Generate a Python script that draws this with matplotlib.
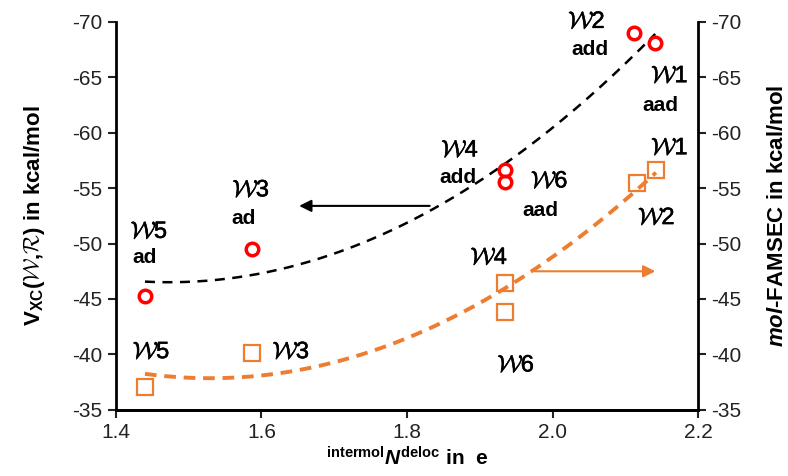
import numpy as np
import matplotlib
matplotlib.use("Agg")
import matplotlib.pyplot as plt
import matplotlib.patheffects as pe

plt.rcParams['font.family'] = ['Liberation Sans', 'DejaVu Sans']
plt.rcParams['axes.unicode_minus'] = False
plt.rcParams['mathtext.fontset'] = 'custom'
plt.rcParams['mathtext.rm'] = 'Liberation Sans:bold'
plt.rcParams['mathtext.it'] = 'Liberation Sans:italic:bold'
plt.rcParams['mathtext.bf'] = 'Liberation Sans:bold'
plt.rcParams['mathtext.sf'] = 'Liberation Sans:bold'
plt.rcParams['mathtext.cal'] = 'cmsy10'

# ---- data ----
molecules = ['W5', 'W3', 'W4', 'W6', 'W2', 'W1']
n_deloc = [1.440, 1.587, 1.935, 1.935, 2.112, 2.141]
vxc = [-45.3, -49.5, -56.6, -55.6, -69.0, -68.1]
n_deloc_f = [1.440, 1.587, 1.935, 1.935, 2.116, 2.142]
famsec = [-37.1, -40.1, -46.4, -43.8, -55.5, -56.6]
motifs = ['ad', 'ad', 'add', 'aad', 'add', 'aad']
x_ticks = [1.4, 1.6, 1.8, 2.0, 2.2]
y_ticks = [-35, -40, -45, -50, -55, -60, -65, -70]

RED = '#FF0000'
ORANGE = '#ED7D31'

fig = plt.figure(figsize=(7.88, 4.76), dpi=100)
ax = fig.add_axes([0.147, 0.139, 0.739, 0.815])
ax2 = ax.twinx()

ax.set_xlim(1.4, 2.2)
for a in (ax, ax2):
    a.set_ylim(-35, -70)
    a.set_yticks(y_ticks)
    a.spines['top'].set_visible(False)
    a.tick_params(axis='y', direction='out', length=6, width=1.5, labelsize=15, colors='#222222')
ax.set_xticks(x_ticks)
ax.set_xticklabels([f'{v:.1f}' for v in x_ticks])
ax.tick_params(axis='x', direction='out', length=6, width=1.5, labelsize=15, colors='#222222')
for a in (ax, ax2):
    for s in ('left', 'right', 'bottom'):
        a.spines[s].set_linewidth(2)
ax.spines['right'].set_visible(False)
ax2.spines['left'].set_visible(False)

# trendlines (2nd order polynomial fits)
xs = np.linspace(min(n_deloc), max(n_deloc), 200)
p1 = np.polyfit(n_deloc, vxc, 2)
ax.plot(xs, np.polyval(p1, xs), color='black', ls=(0, (4, 3)), lw=1.8, zorder=2)
xs2 = np.linspace(min(n_deloc_f), max(n_deloc_f), 200)
p2 = np.polyfit(n_deloc_f, famsec, 2)
ax2.plot(xs2, np.polyval(p2, xs2), color=ORANGE, ls=(0, (3, 2)), lw=2.8, zorder=2)

ax.plot(n_deloc, vxc, 'o', ms=9, mfc='none', mec=RED, mew=2.5, zorder=3)
ax2.plot(n_deloc_f, famsec, 's', ms=11, mfc='none', mec=ORANGE, mew=1.6, zorder=3)

# labels
red_name_pos = [(1.446, -51.05), (1.586, -54.8), (1.873, -58.4), (1.996, -55.6), (2.047, -70.0), (2.161, -65.1)]
red_motif_pos = [(1.440, -48.7), (1.575, -52.3), (1.870, -56.0), (1.983, -53.0), (2.052, -67.5), (2.148, -62.5)]
or_name_pos = [(1.449, -40.2), (1.641, -40.2), (1.913, -48.7), (1.950, -39.0), (2.143, -52.3), (2.161, -58.6)]

stroke = [pe.withStroke(linewidth=0.4, foreground='black')]

def wlabel(name):
    return r'$\mathcal{W}$' + name[1:]

for name, mot, pn, pm, po in zip(molecules, motifs, red_name_pos, red_motif_pos, or_name_pos):
    ax.text(pn[0], pn[1], wlabel(name), fontsize=17, ha='center', va='center', path_effects=stroke)
    ax.text(pm[0], pm[1], mot, fontsize=15, fontweight='bold', ha='center', va='center')
    ax.text(po[0], po[1], wlabel(name), fontsize=17, ha='center', va='center', path_effects=stroke)

# arrows
ax.annotate('', xy=(1.648, -53.4), xytext=(1.835, -53.4),
            arrowprops=dict(arrowstyle='-|>', color='black', lw=1.5, mutation_scale=18))
ax.annotate('', xy=(2.145, -47.5), xytext=(1.972, -47.5),
            arrowprops=dict(arrowstyle='-|>', color=ORANGE, lw=1.5, mutation_scale=18))

ax.set_ylabel(r'V$_{\mathsf{XC}}$($\mathcal{W}$,$\mathcal{R}$) in kcal/mol',
              fontsize=16, fontweight='bold', labelpad=18)
ax2.set_ylabel(r'$mol$-FAMSEC in kcal/mol', fontsize=16, fontweight='bold', labelpad=18)
ax.set_xlabel(r'$^{\mathsf{intermol}}\mathit{N}^{\mathsf{deloc}}$ in  e', fontsize=15,
              fontweight='bold', labelpad=3)

fig.savefig('out.png', dpi=100)
